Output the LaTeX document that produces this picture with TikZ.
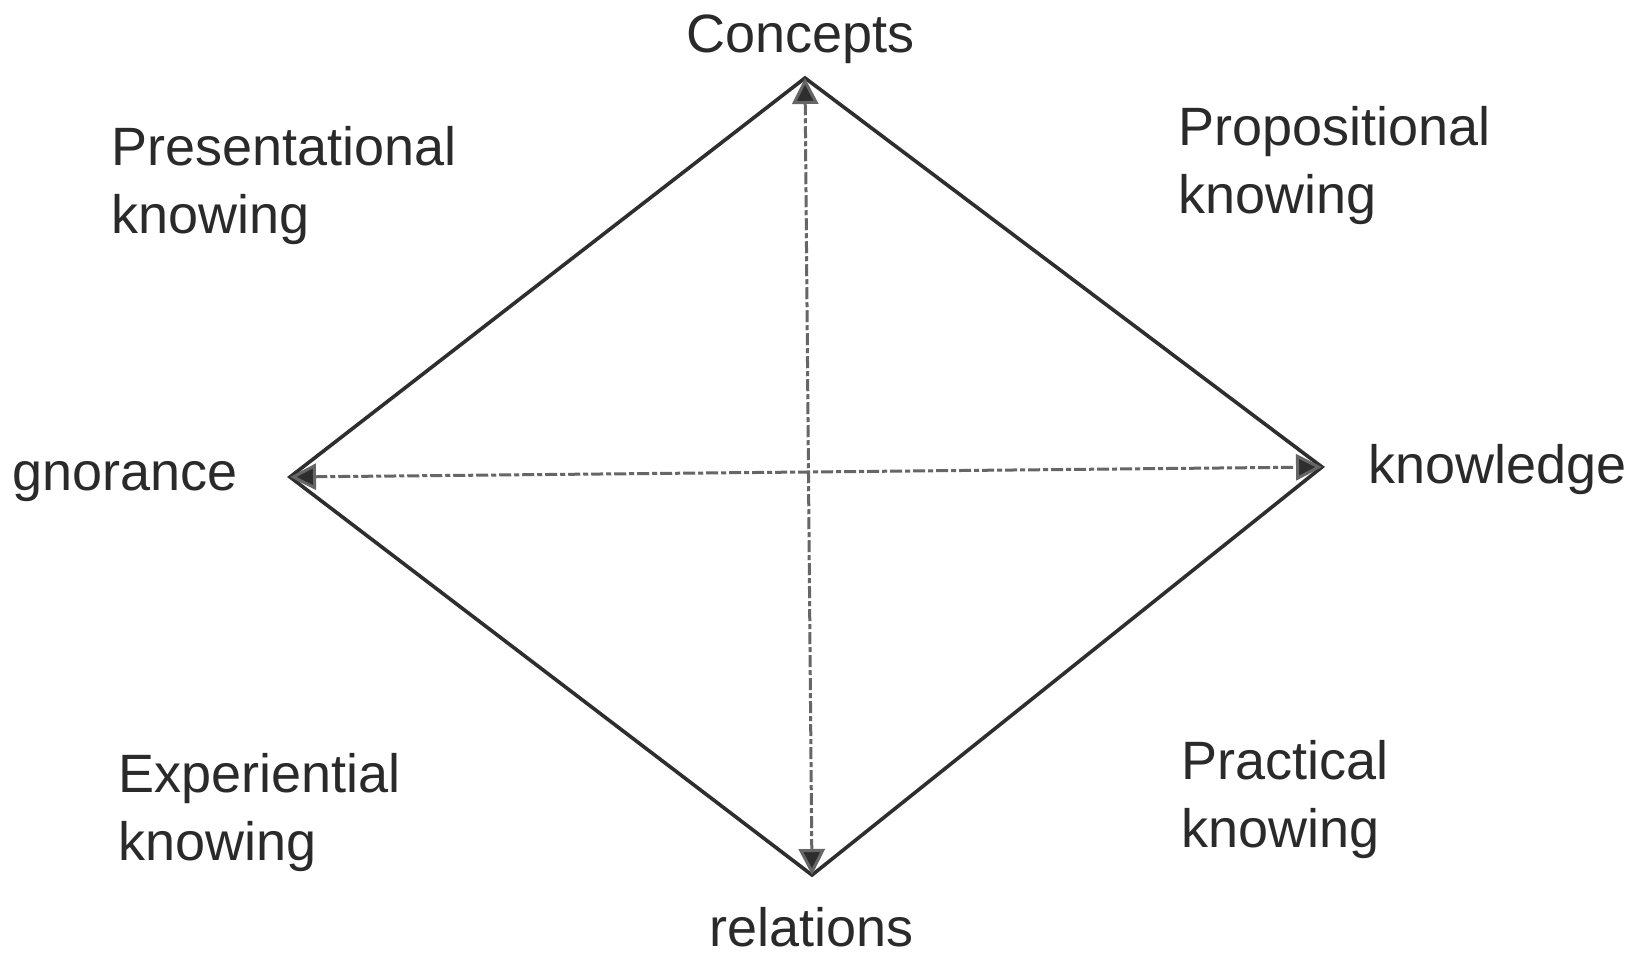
\documentclass[tikz,border=0pt]{standalone}
\usepackage{fontspec}
\setmainfont{Liberation Sans}
\usetikzlibrary{arrows.meta}
\definecolor{edgec}{HTML}{2E2E2E}
\definecolor{axisc}{HTML}{666666}
\definecolor{textc}{HTML}{2A2A2A}
\begin{document}
\begin{tikzpicture}[x=1pt,y=-1pt,
  lbl/.style={inner sep=0pt, anchor=base west, align=left, text=textc,
    font=\fontsize{54}{68}\selectfont},
  side/.style={draw=edgec, line width=3.6pt, line join=miter},
  axisline/.style={draw=axisc, line width=3pt,
    dash pattern=on 12pt off 3pt on 5pt off 3pt,
    {Triangle[length=26pt,width=26pt,fill=edgec]}-{Triangle[length=26pt,width=26pt,fill=edgec]}}]
\useasboundingbox (0,0) rectangle (1643,956);
\fill[white] (0,0) rectangle (1643,956);
% vertices
\coordinate (T) at (805,78);
\coordinate (L) at (290,477);
\coordinate (R) at (1322,467);
\coordinate (B) at (812,875);
% diamond
\draw[side] (T) -- (R) -- (B) -- (L) -- cycle;
% axes
\draw[axisline] (L) -- (R);
\draw[axisline] (T) -- (B);
% labels
\node[lbl] (concepts) at (686,52) {Concepts};
\node[lbl] (relations) at (709,946) {relations};
\node[lbl] (ignorance) at (12,490) {gnorance};
\node[lbl] (knowledge) at (1368,483) {knowledge};
\node[lbl] (present) at (111,233) {Presentational\\knowing};
\node[lbl] (propos) at (1178,213) {Propositional\\knowing};
\node[lbl] (exper) at (118,860) {Experiential\\knowing};
\node[lbl] (pract) at (1181,847) {Practical\\knowing};
\end{tikzpicture}
\end{document}
